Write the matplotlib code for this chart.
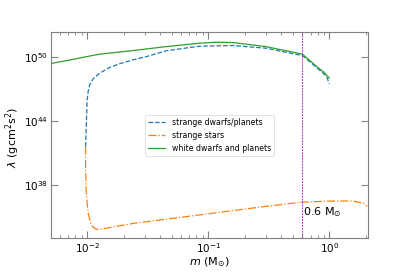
import numpy as np
import matplotlib
matplotlib.use("Agg")
import matplotlib.pyplot as plt
from matplotlib.ticker import LogLocator, NullLocator, FixedLocator

# Data (log10 of lambda)
m_wd = [0.005, 0.0068, 0.01, 0.0127, 0.024, 0.045, 0.085, 0.117, 0.16, 0.30, 0.6, 0.787, 0.9, 1.0]
log_wd = [49.4, 49.68, 50.06, 50.28, 50.62, 50.99, 51.31, 51.4, 51.37, 50.99, 50.28, 49.12, 48.6, 48.03]

m_sd = [0.0097, 0.0098, 0.0099, 0.0100, 0.0102, 0.0105, 0.0112, 0.0127, 0.0153, 0.0184, 0.024,
        0.031, 0.045, 0.085, 0.16, 0.30, 0.6, 0.79, 0.95, 1.0]
log_sd = [41.6, 43.0, 44.6, 46.0, 46.8, 47.4, 47.97, 48.5, 49.03, 49.37, 49.75,
          50.06, 50.6, 51.03, 51.09, 50.84, 50.15, 49.0, 48.2, 47.5]

m_ss = [0.0097, 0.00972, 0.0098, 0.0100, 0.0102, 0.0107, 0.0112, 0.0119, 0.013, 0.024, 0.085,
        0.30, 0.6, 1.08, 1.58, 1.9, 2.05]
log_ss = [41.6, 39.5, 37.6, 36.3, 35.35, 34.4, 34.05, 33.85, 33.87, 34.4, 35.2,
          36.0, 36.4, 36.5, 36.5, 36.3, 36.0]

m_line = 0.6
labels = ["strange dwarfs/planets", "strange stars", "white dwarfs and planets"]
ytick_vals = [1e38, 1e44, 1e50]

fig = plt.figure(figsize=(4.09, 2.73), dpi=100)
ax = fig.add_axes([0.124, 0.127, 0.7765, 0.755])

ax.plot(m_sd, 10.0 ** np.array(log_sd), ls='--', color='#1f77b4', lw=0.9, label=labels[0])
ax.plot(m_ss, 10.0 ** np.array(log_ss), ls='-.', color='#ff7f0e', lw=0.9, label=labels[1])
ax.plot(m_wd, 10.0 ** np.array(log_wd), ls='-', color='#2ca02c', lw=0.9, label=labels[2])
ax.axvline(m_line, color='#b030c0', ls='--', lw=0.7, dashes=(2, 1))

ax.set_xscale('log')
ax.set_yscale('log')
ax.set_xlim(0.005, 2.1)
ax.set_ylim(1e33, 10 ** 52.34)
ax.yaxis.set_major_locator(FixedLocator(ytick_vals))
ax.yaxis.set_minor_locator(NullLocator())
ax.xaxis.set_minor_locator(LogLocator(base=10, subs=np.arange(2, 10)))

ax.text(m_line * 1.005, 10 ** 35.47, r"0.6 M$_{\odot}$", fontsize=8, ha='left', va='center')

for sp in ax.spines.values():
    sp.set_color('#808080')
ax.tick_params(which='both', direction='in', top=True, right=True, colors='#808080',
               labelcolor='black', labelsize=7.5)
ax.tick_params(which='major', length=5, width=0.8, pad=2)
ax.tick_params(which='minor', length=2.5, width=0.6)

ax.set_xlabel(r"$m$ (M$_{\odot}$)", fontsize=8)
ax.set_ylabel(r"$\lambda$ (gcm$^2$s$^2$)", fontsize=8)
ax.xaxis.set_label_coords(0.5, -0.085)
ax.yaxis.set_label_coords(-0.09, 0.49)

leg = ax.legend(loc='center', fontsize=5.6, frameon=True, handlelength=2.2)
leg.get_frame().set_linewidth(0.5)

fig.savefig("out.png", dpi=100)
